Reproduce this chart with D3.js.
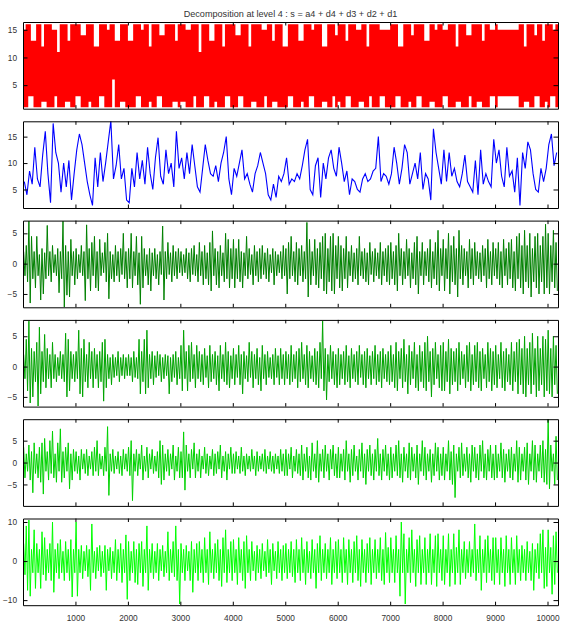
<!DOCTYPE html>
<html><head><meta charset="utf-8">
<script src="https://cdn.jsdelivr.net/npm/d3@7"></script>
<style>body{margin:0;background:#fff}svg{display:block}</style>
</head><body><svg id="c" width="568" height="631"></svg>
<script>
// ---- data (bins of 50 samples, 204 bins over 0..10200) ----
const binSize = 50;
const xMax = 10200;
const xTicks = [1000,2000,3000,4000,5000,6000,7000,8000,9000,10000];
const titleText = "Decomposition at level 4 : s = a4 + d4 + d3 + d2 + d1";

// s : per-bin max / min
const sHi = [15,16,16,13,13,16,16,12,16,16,16,15,15,11,16,16,16,13,16,16,
16,16,14,14,16,16,16,12,12,16,16,16,15,16,16,13,13,16,16,16,
13,13,16,16,16,15,16,16,12,16,16,16,14,14,16,16,16,16,13,16,
16,16,15,15,16,16,16,11,16,16,16,13,13,16,16,16,12,16,16,16,
16,14,14,16,16,16,12,16,16,16,16,15,15,16,16,13,16,16,16,12,
12,16,16,16,16,13,13,16,16,16,15,16,16,16,12,12,16,16,16,14,
16,16,16,13,16,16,16,15,15,16,16,12,16,16,16,16,15,15,15,15,
16,16,16,12,12,16,16,16,14,16,16,16,16,13,13,16,16,15,16,16,
15,15,16,16,16,12,16,16,16,14,14,16,16,16,16,13,16,16,15,15,
16,15,15,15,15,15,15,15,15,16,16,12,16,16,16,14,16,16,13,16,
16,16,15,16];
const sLo = [1,1,3,3,1,1,1,2,2,1,1,1,3,1,1,1,2,2,1,1,
3,3,1,1,1,2,1,1,1,3,3,1,1,1,6,1,1,2,2,1,
1,1,1,3,3,1,1,1,2,1,1,3,3,1,1,1,1,2,2,1,
2,2,1,1,1,3,1,1,1,3,3,1,1,2,1,1,1,3,3,1,
1,1,3,3,1,1,1,2,2,1,1,1,3,1,1,2,2,1,1,1,
1,3,3,1,1,1,2,1,1,3,3,1,1,1,2,2,1,1,3,1,
2,1,1,3,3,1,1,1,2,2,1,1,3,1,1,1,3,3,1,1,
1,1,3,3,1,1,1,2,1,1,3,3,1,1,1,2,2,1,1,1,
3,3,1,1,1,2,2,1,1,1,3,1,1,2,2,1,1,1,3,3,
1,3,3,3,3,3,3,3,3,1,1,2,2,1,1,3,3,1,1,2,
1,3,3,1];

// a4 : value per bin
const a4 = [6.5,4,8.5,6,13,7,5.5,11.5,16,8,2.5,17.5,12,10,4.5,10,5.5,10.5,3,8,
12.5,15.5,13.5,10,6.5,4,2,11,5.5,12,6.5,10,14,18,7,9.5,13.5,7,9,3,
2.5,9,5.5,12,7,10.5,6,13,8,5,11,14.8,7.5,6,12.5,8,10,5.5,16,9,
11,7,12,8,13.5,9.5,5.5,4.5,9,13.5,10.5,8,7.5,9.5,6.5,10,12,15,7,4,
9,7.5,10,12.5,7,8,6,4.5,8,9.5,12,10,8,4,3,6,3.5,7.5,6.5,8,
11,6,7,6.5,8,7,9.5,12.5,14.5,5,4,9.5,11,3.5,10,7,11,12.5,9,7.5,
13,10,6.5,8.5,4,7,6.5,5,4.5,7,8,6.5,7,8.5,9,15,6.5,8,7.5,6,
8,13,10,6,9,13.5,12,6,8,10,7,12,5,8,7,3,16.5,12,9,6,
12.5,6.5,12,7.5,9,6.5,5.5,8,11.5,6.5,5.5,4.5,10.5,4,12.5,6,8,6.5,5.5,14.5,
10,12.5,7.5,5.5,13,7.5,8.5,4.5,11,2,12,9,14,12.5,8,5,4.5,9,6.5,9,
13.5,15.5,9.5,12];

// d4 : per-bin max / min
const d4Hi = [2,3,7,4.5,2,4.5,1.5,2.5,1.8,6.3,2,3,1.5,2.5,2,7,3,2,4,2,
2.5,1.5,3,2,6.4,2.5,3.5,4.5,2,4,1.8,3.5,5,2,1.5,3,2,2.5,5,2,
2.5,5,2,4.5,1.8,4.5,2.5,1.5,2.5,1.8,2.5,1.5,2,6.2,2,3.5,1.8,3,2,2.5,
2,1.5,2.5,1.8,2.5,3,1.5,3.5,2,3,1.8,3.5,5.4,2.5,2,3,1.8,5,4,2.5,
4,2.5,4,2,1.8,4.5,2.5,1.5,3,2,2.5,3,1.8,2.5,1.5,2.5,2,1.5,2,3,
2.5,3.5,4.5,2,3.5,2.5,3,2,6.8,4,2,4,2.5,3.5,4.5,5,2.5,4.5,5,3,
4.5,3,2.5,4.5,2,3,1.8,2.5,4.5,2,2.5,1.8,3.5,2,2.5,1.8,3.5,2,2.5,3,
3.5,2,3,5,2.5,2,4,2.5,1.8,3.5,4.5,2,3.5,2,2.5,4,2,3.5,5.5,2.5,
4,2.5,5,3,4.5,2.5,5.5,3,2.5,2,4,2.5,3.5,2,1.8,3,2.5,4,2,3.5,
2.5,3.5,2,4,2.5,3.5,4,2,4.5,5,3,5.5,3,5,2.5,4.5,5,3,4.5,6.5,
5,3,5.5,3.5];
const d4Lo = [-2,-3,-6.5,-2.5,-4,-2,-6,-5,-2.5,-2,-3,-1.5,-2,-4.8,-2.5,-7.2,-5.2,-5.5,-2,-3.5,
-2.5,-1.5,-2,-6.1,-2.5,-4.5,-2,-4,-4.5,-2,-1.5,-3,-5.8,-2.5,-3,-2,-3,-1.8,-2.5,-4,
-2.5,-4,-2,-3.5,-6.7,-4,-2,-3.5,-4.5,-2,-2.5,-3.5,-1.8,-6,-2.5,-1.8,-3,-2,-2.5,-1.5,
-2,-1.5,-2.5,-3,-1.8,-2,-3,-2,-3.5,-2.5,-3.5,-4.5,-2,-3.5,-4,-2,-3,-2.5,-4,-2.5,
-4,-2.5,-3,-4,-2,-2.5,-1.8,-3.5,-2,-3,-2.5,-1.8,-2.5,-3,-1.5,-3.5,-2,-1.5,-2.5,-2,
-5,-2.5,-2,-3,-3.5,-2,-3,-2.5,-5.5,-3.5,-2,-3.5,-4,-2.5,-4.5,-5,-3,-4.5,-5,-2.5,
-4,-4.5,-2.5,-4,-2,-3,-2.5,-3.5,-2,-2.5,-3,-3.5,-1.8,-3,-2,-2.5,-3.5,-2,-3,-3.5,
-2.5,-3.5,-4.5,-2,-3.5,-2.5,-2,-4,-2.5,-3.5,-5,-2,-3.5,-2,-3,-4,-2.5,-3.5,-4.5,-2,
-4.5,-2.5,-5,-3,-3.5,-5.5,-2.5,-3.5,-2,-4,-2.5,-3.5,-2,-2.5,-3,-2,-4,-2.5,-3.5,-2,
-2.5,-3.5,-4,-2,-3.5,-2.5,-4,-4.5,-2.5,-4,-5,-3,-4,-5.5,-3,-4,-5,-3,-5,-4,
-5,-3,-4,-4.5];

// d3 : per-bin max / min
const d3Hi = [2,4.5,7.5,3,2.5,4,6.5,2.5,5.3,3,2,4,2,1.5,2.5,2,5.5,4.5,2.5,2,
2.5,6,3,4.5,2,4,2.5,3,2,2.5,4,4.5,2,1.5,2,1.5,2.5,1.5,2,1.5,
2,1.5,2.5,1.5,4.5,2.5,4.5,6,2,2.5,1.8,2.5,2,1.5,2,1.8,1.5,2,2.5,1.5,
3.5,6,2.5,3.5,4,2,3.5,2.5,2,3,1.8,3.5,2,2.5,1.8,3.5,2,4,2.5,1.8,
3,2,3.5,2,2.5,1.8,4,2.5,2,3,1.5,3.5,2,2.5,1.5,2,3,1.8,3,2,
2.5,2,3.5,2,2.5,3,4,2,3.5,2.5,1.8,3,2.5,4,7.5,3,2,3.5,2.5,2,
3,2,2.5,3.5,1.8,3,2,2.5,3.5,2,2.5,3,1.8,2.5,3.5,2,2.5,3,2,2.5,
3.5,2,4,2.5,3,4.5,2,3.5,2.5,4,2,3.5,2.5,4,5,2.5,3,4,2,3.5,
4,2.5,4.5,3,2.5,3,4,2.5,2,3.5,4,2,3.5,4,2.5,3,2,4,3,2.5,
3.5,2,4,2.5,3,2,4,2.5,4,4.5,3,5,3,4,5.5,3,5,3,5,4.5,
6,3,5,3.5];
const d3Lo = [-2,-4,-6,-5,-2.5,-6.5,-4.5,-2.5,-3.5,-2,-3.5,-2,-2.5,-1.5,-2,-2.5,-5,-4,-2,-2.5,
-2,-4.5,-5,-2.5,-3.5,-2,-3.5,-2,-3.5,-2.5,-5.7,-3.5,-2,-3,-1.8,-1.5,-2.5,-1.5,-2,-1.5,
-1.5,-2.5,-1.8,-2,-4.5,-2.5,-4.5,-3.5,-2,-3,-1.8,-1.5,-2.5,-2,-1.5,-4.5,-2.5,-1.8,-3,-2,
-4,-2,-4,-2.5,-2,-3.5,-2,-2.5,-3,-1.8,-3.5,-2.5,-2,-3,-4,-2,-2.5,-3,-3.5,-2,
-3,-1.8,-3,-4.5,-2,-2.5,-1.8,-3.5,-2,-3,-4,-2,-3,-1.8,-2,-3,-1.8,-3,-2,-3,
-2,-3,-2.5,-2,-3.5,-2.5,-2,-3,-3.5,-2,-2.5,-3,-3.5,-2,-4,-5.5,-2.5,-2,-3,-3.5,
-3,-2,-3,-2.5,-3.5,-2,-2.5,-3,-1.8,-3,-3.5,-2,-3,-2,-3,-2.5,-3.5,-2,-2.5,-3,
-2.5,-3.5,-4,-2,-3.5,-2.5,-4.5,-3,-2,-3.5,-4,-2.5,-3.5,-4,-2.5,-5,-3,-2,-3.5,-4,
-4,-2.5,-4.5,-3,-2.5,-4,-3,-2,-3.5,-2.5,-4,-3,-2.5,-3.5,-4,-2,-3.5,-2.5,-4,-3,
-3.5,-2,-3.5,-4,-2.5,-3,-4,-2.5,-4.5,-3,-4.5,-5,-3,-4.5,-3,-5,-4,-3,-5,-4,
-4.5,-5,-3,-4.5];

// d2 : per-bin max / min
const d2Hi = [3.5,2,4,2.5,4.5,2,3.5,4.5,5.5,2.5,5,7.2,2,4.5,7.7,2.5,3.5,4.5,2,3,
2.5,1.5,3,2,3,1.5,2.5,3.5,5,2,1.5,3.5,8.2,2,3,1.5,2.5,1.5,3,2,
3.5,5,2,3,2,4,1.5,3.5,2,3,1.5,2.5,5,4,2,3,2,4,1.5,3.5,
2.5,7,4,2,3,4.5,2,3,1.5,3.5,2,1.5,3,2,2.5,4,1.5,2.5,2,3.5,
2,2.5,1.5,3.5,1.5,2,1.5,3,1.5,2.5,1.5,2,3,1.5,2.5,1.5,2,1.5,3,2,
3,2,3.5,1.5,3,2,4,2,3.5,1.5,4.5,2,5,2,3,4,2,3,4,2,
3.5,2,3,5,2,3,4,1.5,3,4.5,2,3,4,2,3,5.5,2,3,4,2,
3.5,2,4,5,2,3.5,2,4.5,3.5,2,4,2,5,3.5,2,3,2,4.5,3.5,2,
3.5,2,5,2.5,4,2,3.5,4.5,2,3.5,2,4,3.5,2,4,5,2,3,4,2,
4,2,4.5,3,2,3,3.5,2,5,3.5,2,3.5,4.5,2,5,4,2,4,5,3,
9.9,4,2,6];
const d2Lo = [-3.5,-2,-4,-6.9,-2.5,-3.5,-4.5,-7.2,-2,-4,-2.5,-3.5,-4.5,-2,-4.5,-3.5,-2,-6,-4,-2,
-2.5,-4,-1.5,-2.5,-3,-1.5,-3,-2,-3,-1.5,-3,-2,-7.5,-2,-2.5,-1.5,-2.5,-3,-1.5,-2,
-3,-8.7,-2,-3,-1.5,-4,-2,-3.5,-1.5,-2.5,-2,-3.5,-5,-4,-2,-3,-1.5,-4,-2,-3.5,
-3.5,-6.3,-2,-3.5,-1.5,-3.5,-2,-3.5,-1.5,-2.5,-3,-1.5,-3,-2.5,-1.5,-3.5,-2,-4,-1.5,-2.5,
-2.5,-1.5,-2.5,-2,-3,-1.5,-2,-1.5,-3,-2,-1.5,-2,-2.5,-1.5,-2,-2.5,-1.5,-2.5,-2,-3,
-3,-1.5,-3.5,-2,-2.5,-3,-4,-2,-3.5,-4,-2,-3.5,-4.5,-2,-3.5,-2,-4,-1.5,-3,-3.5,
-3.5,-2,-4,-2,-4.5,-3,-2,-4,-2,-3.5,-5,-2,-3,-4,-2,-3,-4,-2,-3,-4,
-3.5,-2,-3,-3.5,-4.5,-2,-3.5,-4,-2,-3.5,-5,-2,-3,-4,-2,-4.5,-3,-2,-4,-3,
-4,-2,-4,-5,-8,-2,-3.5,-3,-2,-3.5,-4.5,-2,-3.5,-4,-2,-3.5,-4,-2,-3.5,-4,
-3.5,-2,-3.5,-4.5,-2,-3.5,-4,-2,-4.5,-4,-2,-4,-5,-2,-4,-4.5,-2,-3.5,-4.5,-5,
-6,-2,-5,-4];

// d1 : per-bin max / min
const d1Hi = [4.5,9,10.5,3,8,4.5,3,7.5,6,3,4.5,10,3,4.5,5.5,2.5,5,3,5.5,3,
10,3,4,2.5,4,3,9.5,2.5,3.5,4,2.5,4,3,3.5,2.5,5.5,3,4.5,3,6.7,
5,2.5,5,3,4.5,5,3,9,3,4.5,2.5,4.5,3,4,2.5,7.5,3,5,9,3,
4.5,3,4,2.5,5,3,4.5,5,3,6,3,7.5,3,4.5,5.5,3,6,8,3,5,
5.5,3,6,3,5,6.5,3,5,2.5,4,3,4.5,2.5,5.5,3,4.5,2.5,5,3,4,
4.5,3,5,3,5.5,3,6,3,5,2.5,5.5,3,4.5,6.5,3,4.5,3,6,3,5,
5.5,3,6,3,5.5,3,5,6.5,3,5.5,3,4.5,6,3,5.5,3,6,3,7.3,3.5,
6,3,6.5,3,10,7,3,6,8,3,5.5,6.5,3,6,3,7,3,6.5,7,3,
6.5,3,7,3,7,3.5,8,3,5,3,5,3,9.5,3,6.5,3,5.5,6.5,3,6,
6,3,6,3,6.5,3,6,3,6.5,3,4,3,5,2.5,4.5,3,4.5,7,8,3.5,
8,3.5,6.5,7.5];
const d1Lo = [-3.5,-7.5,-9,-3,-7,-3,-7,-3.5,-5,-3,-5,-8,-3,-4.5,-3,-5,-3,-5,-9.2,-3,
-9,-3,-4.5,-2.5,-4,-7.5,-3,-4.5,-2.5,-4,-3,-7.5,-2.5,-4.5,-3,-5,-3,-5.5,-3,-9.8,
-5,-3,-5.5,-6,-3,-6.5,-3,-7.5,-3,-4.5,-3,-5,-2.5,-4,-3,-5,-3,-4,-5,-11,
-3,-5,-2.5,-5,-8,-3,-5,-3,-5.5,-3,-6,-3,-4.5,-3,-5,-6.5,-3,-5.5,-3,-5,
-3,-6,-3,-5,-7,-3,-5,-2.5,-5,-3,-4.5,-2.5,-4,-3,-6,-2.5,-4.5,-3,-5,-3,
-4.5,-3,-4,-5.5,-3,-5,-3,-6,-3,-4.5,-3,-7,-3,-5,-3,-4.5,-3,-6,-3,-4.5,
-3,-5.5,-3,-6,-3,-5.5,-3,-5,-6.5,-3,-5.5,-3,-6,-3,-4.5,-3,-5,-6,-3,-5.5,
-3,-5.5,-3,-9,-3,-11,-3,-5.5,-3,-6.5,-3,-6,-3,-6,-3,-6,-3,-6.5,-3,-5,
-6,-3,-6.5,-3,-6,-3,-6,-3,-4.5,-3,-4,-3,-5,-3,-7.5,-3,-5.5,-3,-5,-6,
-3,-6,-3,-6.5,-3,-6,-3,-6,-3,-5,-3,-5,-3,-5,-7.5,-3,-4.5,-3,-7,-6.5,
-3,-8.5,-6,-3];

const yTicksS = [5,10,15];
const yTicksA = [5,10,15];
const yTicksD = [-5,0,5];
const yTicksD1 = [-10,0,10];

// ---- drawing ----
const FONT = "'Liberation Sans', Arial, Helvetica, sans-serif";
const TEXT = "#333";
const svg = d3.select("#c");
const L = 23, R = 558, T0 = 22, STEP = 99.3, PH = 86.7;
const x = d3.scaleLinear().domain([0, xMax]).range([L, R]);

const panels = [
  {kind:"band", hi:sHi, lo:sLo, color:"#ff0000", domain:[0.75,16.4], ticks:yTicksS},
  {kind:"line", v:a4, color:"#0000ff", domain:[1.5,17.9], ticks:yTicksA},
  {kind:"zig", hi:d4Hi, lo:d4Lo, color:"#008000", domain:[-7.2,7.1], ticks:yTicksD},
  {kind:"zig", hi:d3Hi, lo:d3Lo, color:"#00a400", domain:[-6.6,7.7], ticks:yTicksD},
  {kind:"zig", hi:d2Hi, lo:d2Lo, color:"#00d200", domain:[-9.9,9.9], ticks:yTicksD},
  {kind:"zig", hi:d1Hi, lo:d1Lo, color:"#00ff00", domain:[-11.3,10.9], ticks:yTicksD1}
];

svg.append("text").attr("x", (L+R)/2).attr("y", 16.5).attr("text-anchor","middle")
  .style("font-family", FONT).style("font-size","9.1px").attr("fill", TEXT).text(titleText);

const defs = svg.append("defs");

panels.forEach((p, k) => {
  const y0 = T0 + STEP*k;
  const y = d3.scaleLinear().domain(p.domain).range([y0+PH, y0]);
  const g = svg.append("g");
  const cid = "clip"+k;
  defs.append("clipPath").attr("id", cid).append("rect")
    .attr("x", L).attr("y", y0).attr("width", R-L).attr("height", PH);
  const dg = g.append("g").attr("clip-path", `url(#${cid})`);

  if (p.kind === "band") {
    const pts = p.hi.map((h,i)=>({x:i*binSize, hi:h, lo:p.lo[i]}));
    const last = pts[pts.length-1];
    pts.push({x:xMax, hi:last.hi, lo:last.lo});
    const area = d3.area().curve(d3.curveStepAfter)
      .x(d=>x(d.x)).y0(d=>y(d.lo)).y1(d=>y(d.hi));
    dg.append("path").attr("d", area(pts)).attr("fill", p.color);
  } else if (p.kind === "line") {
    const line = d3.line().x((d,i)=>x(i*binSize+binSize/2)).y(d=>y(d));
    dg.append("path").attr("d", line(p.v)).attr("fill","none")
      .attr("stroke", p.color).attr("stroke-width", 1.1);
  } else {
    const pts = [];
    p.hi.forEach((h,i)=>{
      pts.push([i*binSize + binSize*0.25, h]);
      pts.push([i*binSize + binSize*0.75, p.lo[i]]);
    });
    const line = d3.line().x(d=>x(d[0])).y(d=>y(d[1]));
    dg.append("path").attr("d", line(pts)).attr("fill","none")
      .attr("stroke", p.color).attr("stroke-width", 1);
  }

  const isLast = k === panels.length-1;
  const axB = d3.axisBottom(x).tickValues(xTicks).tickSizeInner(-3.5).tickSizeOuter(0)
    .tickPadding(9.5).tickFormat(isLast ? d3.format("d") : () => "");
  const axT = d3.axisTop(x).tickValues(xTicks).tickSizeInner(-3.5).tickSizeOuter(0).tickFormat(()=> "");
  const axL = d3.axisLeft(y).tickValues(p.ticks).tickSizeInner(-4.5).tickSizeOuter(0).tickPadding(6);
  const axR = d3.axisRight(y).tickValues(p.ticks).tickSizeInner(-4.5).tickSizeOuter(0).tickFormat(()=> "");

  const gb = g.append("g").attr("transform",`translate(0,${y0+PH})`).call(axB);
  const gt = g.append("g").attr("transform",`translate(0,${y0})`).call(axT);
  const gl = g.append("g").attr("transform",`translate(${L},0)`).call(axL);
  const gr = g.append("g").attr("transform",`translate(${R},0)`).call(axR);
  [gb,gt,gl,gr].forEach(a=>{
    a.selectAll(".domain").attr("stroke","#000").attr("stroke-width",1);
    a.selectAll(".tick line").attr("stroke","#000").attr("stroke-width",1);
    a.selectAll("text").style("font-family", FONT).style("font-size","8.3px").attr("fill", TEXT);
  });
});
</script></body></html>
